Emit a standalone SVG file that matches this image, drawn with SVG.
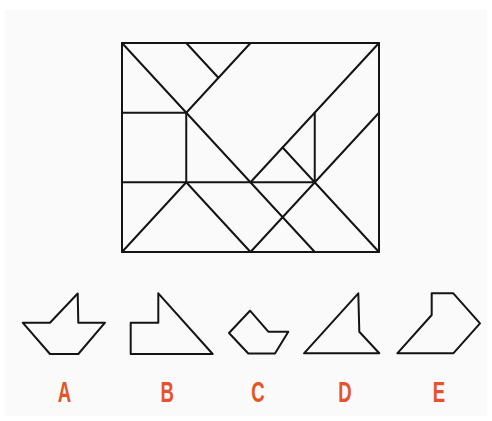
<svg xmlns="http://www.w3.org/2000/svg" width="492" height="421" viewBox="0 0 492 421">
<style>
.ln{stroke:#141414;stroke-width:2;fill:none;stroke-linecap:round;stroke-linejoin:round}
.lbl{font-family:"Liberation Sans",Arial,sans-serif;font-weight:bold;font-size:30px;fill:#e4542a;text-anchor:middle}
</style>
<rect width="492" height="421" fill="#ffffff"/>
<rect x="5" y="10" width="482" height="406" fill="#fafafa"/>
<g id="puzzle" class="ln">
<rect x="122" y="43" width="257" height="209"/>
<line x1="186.25" y1="43" x2="218.4" y2="77.8"/>
<line x1="250.5" y1="43" x2="186.25" y2="112.7"/>
<line x1="122" y1="43" x2="314.75" y2="252"/>
<line x1="122" y1="112.7" x2="186.25" y2="112.7"/>
<line x1="186.25" y1="112.7" x2="186.25" y2="182.3"/>
<line x1="122" y1="182.3" x2="314.75" y2="182.3"/>
<line x1="379" y1="43" x2="250.5" y2="182.3"/>
<line x1="314.75" y1="112.7" x2="314.75" y2="182.3"/>
<line x1="282.6" y1="147.5" x2="379" y2="252"/>
<line x1="379" y1="112.7" x2="250.5" y2="252"/>
<line x1="122" y1="252" x2="186.25" y2="182.3"/>
<line x1="186.25" y1="182.3" x2="250.5" y2="252"/>
</g>
<g id="shapeA"><polygon class="ln" points="22.7,322.7 50,322.7 77.7,293.5 78.3,322.7 105,322.7 78.3,354 50,354"/></g>
<g id="shapeB"><polygon class="ln" points="158.3,293.3 158.3,322.7 130.7,322.7 130.7,354 212.7,354"/></g>
<g id="shapeC"><polygon class="ln" points="229,333 250,310.7 268.3,331.7 288.3,331.7 275,353.5 248.3,353.5"/></g>
<g id="shapeD"><polygon class="ln" points="304,353.3 358.3,293.3 359.3,331.7 379.3,353.3"/></g>
<g id="shapeE"><polygon class="ln" points="431.7,293.3 453.3,293.3 480,323.3 453.3,353.3 397.3,353.3 431.7,315"/></g>
<g id="labels">
<text class="lbl" transform="translate(64.5,402) scale(0.62,1)">A</text>
<text class="lbl" transform="translate(167.3,402) scale(0.62,1)">B</text>
<text class="lbl" transform="translate(258,402) scale(0.62,1)">C</text>
<text class="lbl" transform="translate(345,402) scale(0.62,1)">D</text>
<text class="lbl" transform="translate(439,402) scale(0.62,1)">E</text>
</g>
</svg>
